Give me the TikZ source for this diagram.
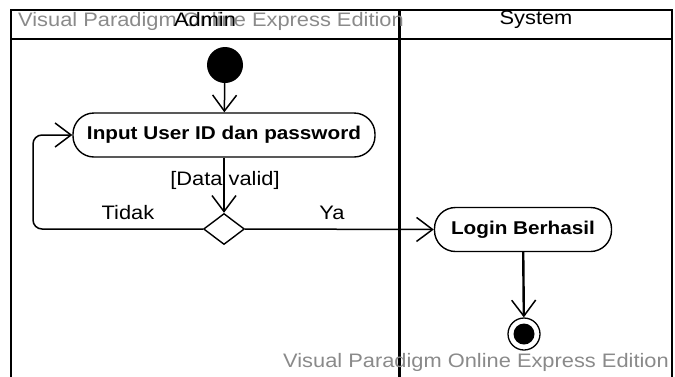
\documentclass[tikz,border=0pt]{standalone}
\usepackage{fontspec}
\setmainfont{Liberation Sans}[FakeStretch=1.12]
\usetikzlibrary{arrows.meta,shapes.geometric}
\definecolor{wmgray}{HTML}{8A8A8A}
\tikzset{
  lane/.style={line width=2pt},
  divider/.style={line width=3pt},
  actionbox/.style={draw, line width=1.4pt, rectangle, rounded corners=21pt,
    minimum height=44pt, inner xsep=12pt,
    font=\fontsize{18.5}{20}\selectfont\bfseries},
  flow/.style={line width=1.5pt, -{Straight Barb[length=16pt,width=24pt,line width=1.5pt]}},
  plain/.style={font=\fontsize{19.5}{21}\selectfont, inner sep=0pt},
  watermark/.style={font=\fontsize{19.5}{21}\selectfont, text=wmgray, inner sep=0pt},
}
\begin{document}
\begin{tikzpicture}[x=1pt,y=-1pt]
  \useasboundingbox (0,0) rectangle (675,376);

  % swimlane frame
  \draw[lane] (11,380) -- (11,10) -- (672,10) -- (672,380);
  \draw[lane] (11,39) -- (672,39);
  \draw[divider] (399,10) -- (399,380);

  % watermarks
  \node[watermark, anchor=west] (wmtop) at (18,21) {Visual Paradigm Online Express Edition};
  \node[watermark, anchor=east] (wmbottom) at (669,362) {Visual Paradigm Online Express Edition};

  % lane titles
  \node[plain] (admin) at (205,20) {Admin};
  \node[plain] (system) at (536,20) {System};

  % activity nodes
  \node[circle, fill, minimum size=36pt, inner sep=0pt] (init) at (225,65) {};
  \node[actionbox, minimum width=302pt] (input) at (224,135) {Input User ID dan password};
  \node[draw, diamond, line width=1.4pt, minimum width=41pt, minimum height=31pt,
        aspect=1.32, inner sep=0pt] (dec) at (224,229) {};
  \node[actionbox, minimum width=177pt] (login) at (523,229.5) {Login Berhasil};
  \node[circle, draw, line width=1.3pt, minimum size=32pt, inner sep=0pt] (final) at (524,334) {};
  \node[circle, fill, minimum size=21pt, inner sep=0pt] (finalcore) at (524,334) {};

  % labels
  \node[plain] (guard) at (225,180) {[Data valid]};
  \node[plain] (tidak) at (128,213) {Tidak};
  \node[plain] (ya) at (332,213) {Ya};

  % flows
  \coordinate (loopb) at (33,229);
  \coordinate (loopt) at (33,135);
  \draw[flow] (init) -- (input);
  \draw[flow] (input) -- (dec);
  \draw[flow, rounded corners=9pt] (dec.west) -- (loopb) -- (loopt) -- (input.west);
  \draw[flow] (dec.east) -- (login.west);
  \draw[flow, line width=2.4pt] (login) -- (final);
\end{tikzpicture}
\end{document}
